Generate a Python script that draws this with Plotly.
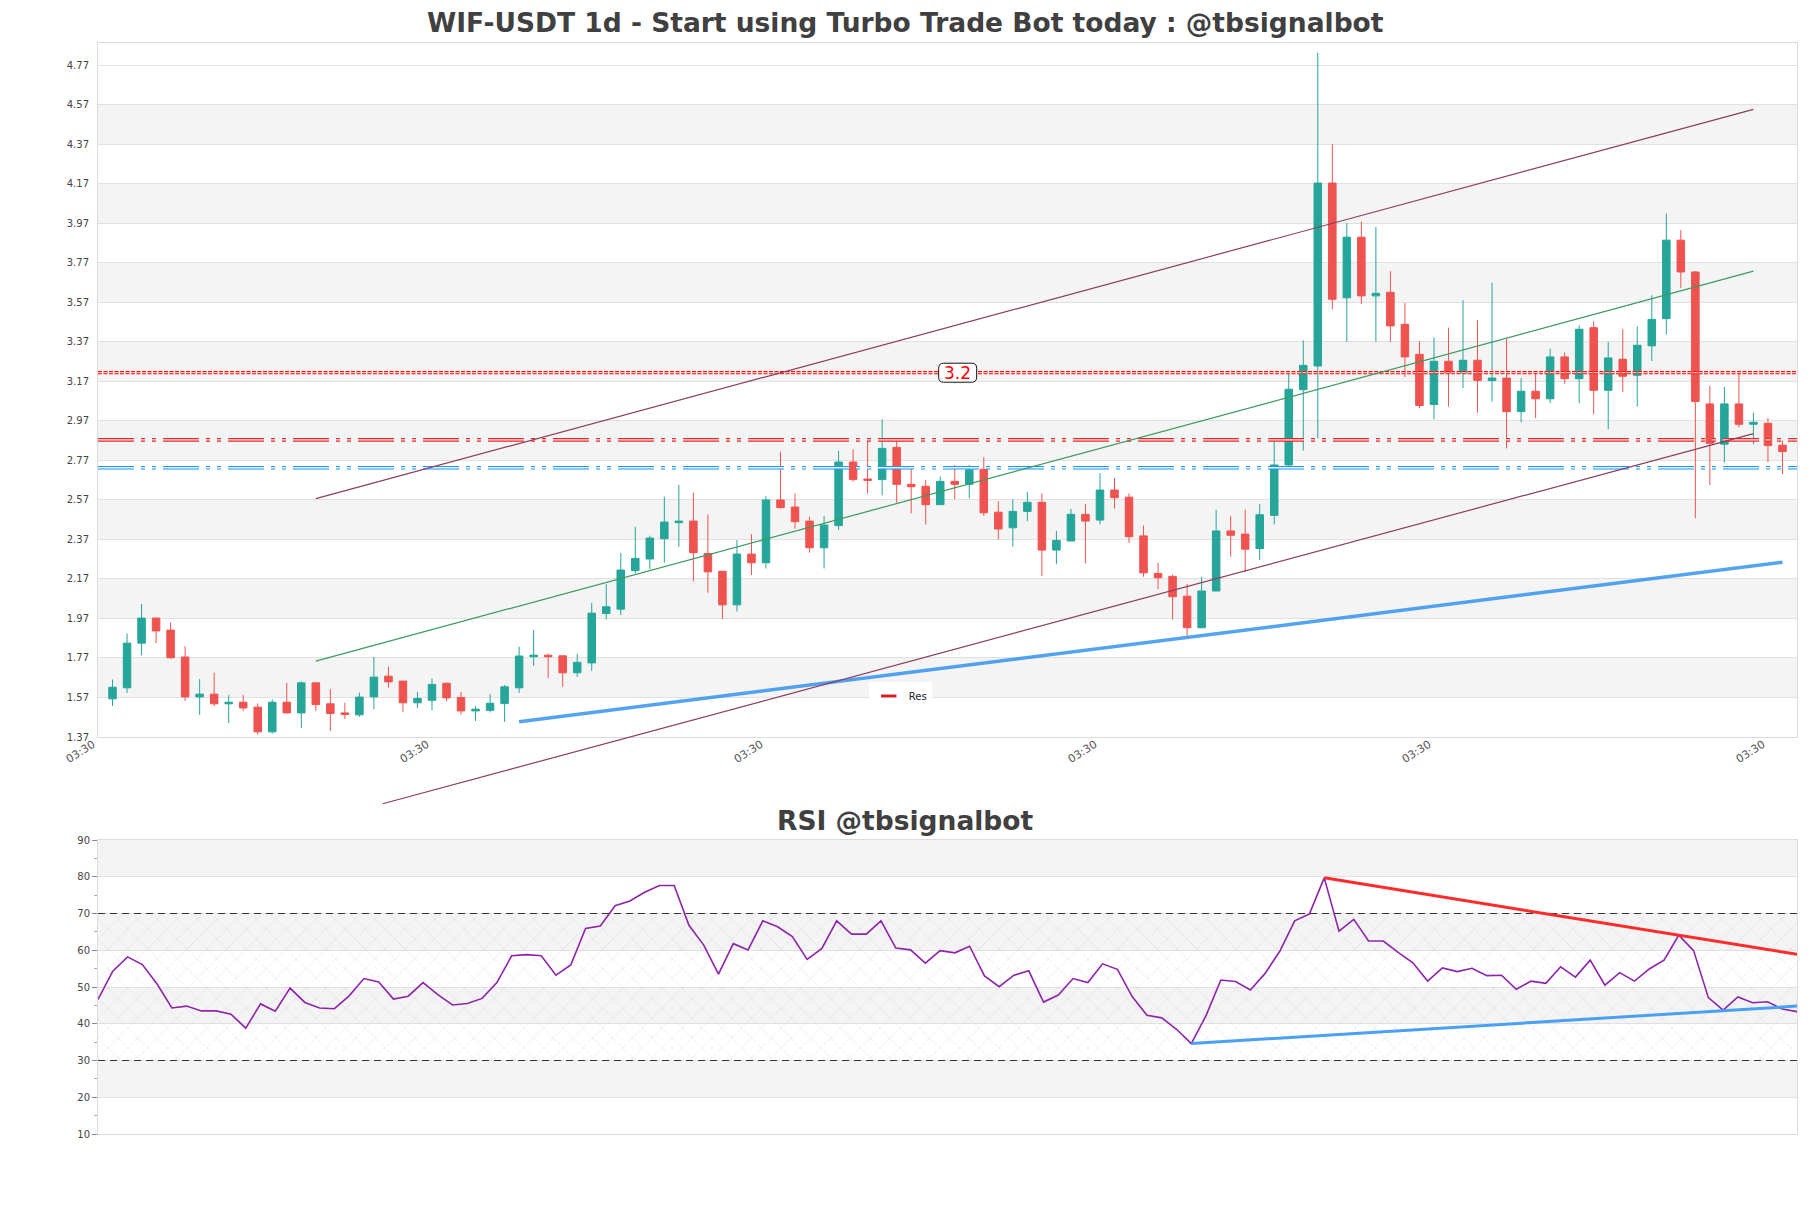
import plotly.graph_objects as go

# ---------------- data ----------------
TITLE = "WIF-USDT 1d - Start using Turbo Trade Bot today : @tbsignalbot"
RSI_TITLE = "RSI @tbsignalbot"

OPEN = [1.563, 1.619, 1.845, 1.972, 1.911, 1.775, 1.573, 1.587, 1.538, 1.546,
        1.521, 1.396, 1.546, 1.492, 1.644, 1.538, 1.492, 1.482, 1.573, 1.678,
        1.653, 1.543, 1.556, 1.642, 1.570, 1.502, 1.505, 1.539, 1.619, 1.776,
        1.784, 1.781, 1.695, 1.745, 1.995, 2.017, 2.212, 2.271, 2.374, 2.455,
        2.463, 2.299, 2.209, 2.039, 2.296, 2.252, 2.570, 2.534, 2.463, 2.328,
        2.440, 2.762, 2.676, 2.673, 2.836, 2.649, 2.639, 2.546, 2.664, 2.649,
        2.725, 2.508, 2.429, 2.512, 2.558, 2.316, 2.362, 2.497, 2.468, 2.620,
        2.584, 2.388, 2.198, 2.183, 2.083, 1.923, 2.109, 2.413, 2.397, 2.324,
        2.492, 2.747, 3.128, 3.248, 4.174, 3.593, 3.900, 3.603, 3.621, 3.459,
        3.307, 3.053, 3.272, 3.213, 3.277, 3.174, 3.187, 3.017, 3.120, 3.082,
        3.294, 3.184, 3.442, 3.125, 3.282, 3.201, 3.350, 3.488, 3.885, 3.724,
        3.056, 2.852, 3.056, 2.953, 2.958, 2.847]
HIGH = [1.661, 1.894, 2.043, 1.975, 1.950, 1.830, 1.663, 1.695, 1.582, 1.582,
        1.540, 1.561, 1.644, 1.652, 1.644, 1.612, 1.543, 1.595, 1.775, 1.726,
        1.653, 1.598, 1.666, 1.646, 1.598, 1.526, 1.587, 1.633, 1.827, 1.911,
        1.792, 1.781, 1.792, 2.049, 2.144, 2.301, 2.434, 2.389, 2.587, 2.646,
        2.607, 2.497, 2.209, 2.367, 2.397, 2.589, 2.814, 2.603, 2.485, 2.488,
        2.819, 2.826, 2.873, 2.978, 2.880, 2.730, 2.671, 2.688, 2.747, 2.747,
        2.786, 2.563, 2.573, 2.610, 2.603, 2.413, 2.524, 2.549, 2.706, 2.681,
        2.603, 2.440, 2.252, 2.191, 2.144, 2.181, 2.520, 2.488, 2.520, 2.549,
        2.873, 3.209, 3.378, 4.834, 4.371, 3.973, 3.978, 3.952, 3.728, 3.567,
        3.373, 3.392, 3.442, 3.581, 3.480, 3.669, 3.387, 3.187, 3.214, 3.336,
        3.316, 3.454, 3.474, 3.370, 3.434, 3.449, 3.606, 4.020, 3.936, 3.728,
        3.147, 3.142, 3.209, 3.012, 2.984, 2.869]
LOW = [1.527, 1.593, 1.784, 1.845, 1.767, 1.553, 1.482, 1.526, 1.441, 1.502,
       1.382, 1.387, 1.489, 1.416, 1.502, 1.401, 1.462, 1.472, 1.511, 1.619,
       1.497, 1.517, 1.505, 1.551, 1.483, 1.451, 1.494, 1.446, 1.593, 1.730,
       1.669, 1.624, 1.674, 1.705, 1.965, 1.987, 2.198, 2.220, 2.252, 2.333,
       2.158, 2.100, 1.968, 2.005, 2.190, 2.223, 2.526, 2.424, 2.303, 2.223,
       2.418, 2.663, 2.602, 2.593, 2.556, 2.502, 2.445, 2.546, 2.573, 2.578,
       2.489, 2.370, 2.333, 2.463, 2.186, 2.245, 2.362, 2.249, 2.446, 2.526,
       2.353, 2.181, 2.119, 1.965, 1.880, 1.923, 2.109, 2.283, 2.206, 2.266,
       2.446, 2.740, 2.820, 2.882, 3.535, 3.370, 3.561, 3.370, 3.370, 3.192,
       3.034, 2.978, 3.043, 3.137, 3.012, 3.068, 2.831, 2.963, 2.984, 3.060,
       3.159, 3.060, 3.004, 2.928, 3.116, 3.043, 3.273, 3.407, 3.643, 2.477,
       2.646, 2.759, 2.938, 2.852, 2.761, 2.701]
CLOSE = [1.622, 1.845, 1.972, 1.907, 1.771, 1.573, 1.587, 1.538, 1.546, 1.517,
         1.396, 1.546, 1.492, 1.644, 1.534, 1.489, 1.484, 1.572, 1.673, 1.649,
         1.543, 1.565, 1.636, 1.568, 1.502, 1.511, 1.541, 1.624, 1.780, 1.784,
         1.776, 1.695, 1.748, 1.997, 2.029, 2.215, 2.274, 2.377, 2.458, 2.463,
         2.303, 2.206, 2.039, 2.296, 2.252, 2.570, 2.531, 2.460, 2.328, 2.443,
         2.762, 2.673, 2.669, 2.831, 2.649, 2.637, 2.546, 2.664, 2.649, 2.722,
         2.505, 2.423, 2.512, 2.558, 2.316, 2.365, 2.497, 2.463, 2.620, 2.581,
         2.384, 2.201, 2.176, 2.080, 1.923, 2.109, 2.413, 2.391, 2.321, 2.495,
         2.747, 3.130, 3.251, 4.174, 3.586, 3.900, 3.603, 3.616, 3.451, 3.294,
         3.048, 3.272, 3.213, 3.277, 3.175, 3.187, 3.017, 3.120, 3.082, 3.294,
         3.184, 3.434, 3.125, 3.289, 3.196, 3.353, 3.484, 3.885, 3.724, 3.068,
         2.857, 3.056, 2.953, 2.963, 2.845, 2.815]

RSI = [46.6, 54.3, 58.2, 56.1, 50.8, 44.3, 44.8, 43.5, 43.5, 42.6,
       38.8, 45.4, 43.4, 49.7, 45.8, 44.3, 44.1, 47.6, 52.3, 51.4,
       46.7, 47.5, 51.2, 47.9, 45.1, 45.5, 46.9, 51.2, 58.5, 58.8,
       58.5, 53.2, 56.0, 65.9, 66.6, 72.1, 73.4, 75.8, 77.6, 77.6,
       66.8, 61.4, 53.5, 61.8, 60.1, 68.0, 66.4, 63.7, 57.5, 60.5,
       68.0, 64.4, 64.4, 68.0, 60.6, 60.1, 56.5, 59.9, 59.3, 61.1,
       53.0, 50.1, 53.2, 54.4, 45.9, 47.8, 52.3, 51.2, 56.3, 54.8,
       47.4, 42.3, 41.6, 38.5, 34.6, 42.2, 51.9, 51.5, 49.2, 53.7,
       59.8, 68.0, 69.9, 79.7, 65.2, 68.4, 62.5, 62.5, 59.4, 56.6,
       51.6, 55.2, 54.2, 55.1, 53.1, 53.2, 49.4, 51.6, 51.0, 55.5,
       52.7, 57.3, 50.5, 53.9, 51.6, 54.9, 57.3, 64.1, 59.9, 47.1,
       43.7, 47.3, 45.7, 46.0, 44.0, 43.3]

X_RANGE = [-1, 116]
Y_RANGE = [1.37, 4.883]
X_TICK_POS = [-1, 22, 45, 68, 91, 114]
X_TICK_TEXT = ["03:30", "03:30", "03:30", "03:30", "03:30", "03:30"]
Y_TICKS = [1.37, 1.57, 1.77, 1.97, 2.17, 2.37, 2.57, 2.77, 2.97, 3.17,
           3.37, 3.57, 3.77, 3.97, 4.17, 4.37, 4.57, 4.77]
RSI_TICKS = [10, 20, 30, 40, 50, 60, 70, 80, 90]
RSI_OVERBOUGHT = 70
RSI_OVERSOLD = 30

RES_LEVEL = 3.214
RES_LABEL = "3.2"
RES_LABEL_X = 58.2
RED_LEVEL = 2.874
BLUE_LEVEL = 2.733

CH_UPPER_X, CH_UPPER_Y = [14, 113], [2.577, 4.547]
CH_MID_X, CH_MID_Y = [14, 113], [1.754, 3.728]
CH_LOWER_X, CH_LOWER_Y = [18.6, 113], [1.032, 2.906]
SUPPORT_X, SUPPORT_Y = [28, 115], [1.447, 2.255]
RSI_RES_X, RSI_RES_Y = [83, 115], [79.7, 58.9]
RSI_SUP_X, RSI_SUP_Y = [74, 115], [34.6, 44.8]

# ---------------- layout geometry (page px; the page body has an 8px margin) ----------------
PAD = 8
W, H = 1811 - 2 * PAD, 1208 - 2 * PAD
PLOT_L, PLOT_R, PLOT_T, PLOT_B = 98, 1797.5, 43, 1134     # page coordinates
ML = PLOT_L - PAD
MR = W - (PLOT_R - PAD)
MT = PLOT_T - PAD
MB = H - (PLOT_B - PAD)
plot_w = W - ML - MR
plot_h = H - MT - MB


def py(page_y):  # page y -> paper y
    return (PLOT_B - page_y) / plot_h


def px(page_x):  # page x -> paper x
    return (page_x - PLOT_L) / plot_w


MAIN_DOM = [py(737), 1.0]
RSI_DOM = [0.0, py(840)]
EXT_DOM_LO = py(812)   # extended (unclipped) area for channel lines

per_paper = (Y_RANGE[1] - Y_RANGE[0]) / (MAIN_DOM[1] - MAIN_DOM[0])
ext_lo = Y_RANGE[0] - (MAIN_DOM[0] - EXT_DOM_LO) * per_paper

idx = list(range(len(OPEN)))
rsi_x = list(range(len(RSI)))

FONT = "DejaVu Sans"
GREEN = "#26a69a"
RED = "#ef5350"

fig = go.Figure()

fig.add_trace(go.Candlestick(
    x=idx, open=OPEN, high=HIGH, low=LOW, close=CLOSE,
    increasing=dict(line=dict(color=GREEN, width=1), fillcolor=GREEN),
    decreasing=dict(line=dict(color=RED, width=1), fillcolor=RED),
    whiskerwidth=0, showlegend=False, xaxis="x", yaxis="y"))


def hollow_line(level, color, inner, dash, outer_w, inner_w):
    fig.add_trace(go.Scatter(x=X_RANGE, y=[level, level], mode="lines",
                             line=dict(color=color, width=outer_w, dash=dash),
                             showlegend=False, hoverinfo="skip", xaxis="x", yaxis="y"))
    fig.add_trace(go.Scatter(x=X_RANGE, y=[level, level], mode="lines",
                             line=dict(color=inner, width=inner_w, dash=dash),
                             showlegend=False, hoverinfo="skip", xaxis="x", yaxis="y"))


DASHDOT = "36px,7px,4px,7px,4px,7px"
hollow_line(RED_LEVEL, "#e8262b", "#fdeee6", DASHDOT, 3.6, 1.3)
hollow_line(BLUE_LEVEL, "#2196f3", "#e6f6ff", DASHDOT, 3.6, 1.3)
hollow_line(RES_LEVEL, "#ff1010", "#fff2ee", "4px,1.5px", 3.2, 1.0)

# support line
fig.add_trace(go.Scatter(x=SUPPORT_X, y=SUPPORT_Y, mode="lines",
                         line=dict(color="rgba(40,140,240,0.8)", width=3.5),
                         showlegend=False, hoverinfo="skip", xaxis="x", yaxis="y"))

# channel lines (extended subplot so the lower line can leave the plot area)
for xs, ys, col in [(CH_UPPER_X, CH_UPPER_Y, "#8c3d5c"),
                    (CH_MID_X, CH_MID_Y, "#3c9a5f"),
                    (CH_LOWER_X, CH_LOWER_Y, "#8c3d5c")]:
    fig.add_trace(go.Scatter(x=xs, y=ys, mode="lines", line=dict(color=col, width=1.2),
                             showlegend=False, hoverinfo="skip", xaxis="x3", yaxis="y3"))

# legend entry
fig.add_trace(go.Scatter(x=[None], y=[None], mode="markers", name="Res",
                         marker=dict(symbol="line-ew-open", size=11, color="#d81f26",
                                     line=dict(color="#d81f26", width=3)),
                         xaxis="x", yaxis="y"))

# ---------------- RSI ----------------
fig.add_trace(go.Scatter(
    x=[rsi_x[0], rsi_x[-1], rsi_x[-1], rsi_x[0], rsi_x[0]],
    y=[RSI_OVERSOLD, RSI_OVERSOLD, RSI_OVERBOUGHT, RSI_OVERBOUGHT, RSI_OVERSOLD],
    mode="lines", fill="toself", line=dict(width=0),
    fillcolor="rgba(0,0,0,0)",
    fillpattern=dict(shape="x", size=14, solidity=0.09,
                     fgcolor="rgba(180,150,205,0.5)", bgcolor="rgba(0,0,0,0)"),
    showlegend=False, hoverinfo="skip", xaxis="x2", yaxis="y2"))

for lvl in [RSI_OVERBOUGHT, RSI_OVERSOLD]:
    fig.add_trace(go.Scatter(x=[rsi_x[0], rsi_x[-1]], y=[lvl, lvl], mode="lines",
                             line=dict(color="#333333", width=1.2, dash="7px,5px"),
                             showlegend=False, hoverinfo="skip", xaxis="x2", yaxis="y2"))

fig.add_trace(go.Scatter(x=rsi_x, y=RSI, mode="lines",
                         line=dict(color="#8e24aa", width=1.6),
                         showlegend=False, hoverinfo="skip", xaxis="x2", yaxis="y2"))

fig.add_trace(go.Scatter(x=RSI_RES_X, y=RSI_RES_Y, mode="lines",
                         line=dict(color="#ff2a2a", width=3),
                         showlegend=False, hoverinfo="skip", xaxis="x2", yaxis="y2"))
fig.add_trace(go.Scatter(x=RSI_SUP_X, y=RSI_SUP_Y, mode="lines",
                         line=dict(color="#4aa0f2", width=3),
                         showlegend=False, hoverinfo="skip", xaxis="x2", yaxis="y2"))

# ---------------- background bands ----------------
shapes = []
for k in range(len(Y_TICKS) - 1):
    if k % 2 == 1:
        shapes.append(dict(type="rect", xref="x domain", yref="y", x0=0, x1=1,
                           y0=Y_TICKS[k], y1=Y_TICKS[k + 1], fillcolor="#f4f4f4",
                           line=dict(width=0), layer="below"))
for k in range(len(RSI_TICKS) - 1):
    if k % 2 == 1:
        shapes.append(dict(type="rect", xref="x2 domain", yref="y2", x0=0, x1=1,
                           y0=RSI_TICKS[k], y1=RSI_TICKS[k + 1], fillcolor="#f4f4f4",
                           line=dict(width=0), layer="below"))

# rounded label box (pixel-sized, anchored at the label's data position)
BW, BH, BR = 19, 9.5, 5
box_path = (f"M {-BW + BR},{-BH} L {BW - BR},{-BH} Q {BW},{-BH} {BW},{-BH + BR} "
            f"L {BW},{BH - BR} Q {BW},{BH} {BW - BR},{BH} L {-BW + BR},{BH} "
            f"Q {-BW},{BH} {-BW},{BH - BR} L {-BW},{-BH + BR} Q {-BW},{-BH} {-BW + BR},{-BH} Z")
shapes.append(dict(type="path", xref="x", yref="y", xsizemode="pixel", ysizemode="pixel",
                   xanchor=RES_LABEL_X, yanchor=RES_LEVEL, path=box_path,
                   fillcolor="white", line=dict(color="#111111", width=1), layer="above"))

title_x = px(1811 / 2)

annotations = [
    dict(text=TITLE, xref="paper", yref="paper", x=title_x, y=py(23),
         xanchor="center", yanchor="middle", showarrow=False,
         font=dict(family=FONT, size=26.5, color="#404040", weight="bold")),
    dict(text=RSI_TITLE, xref="paper", yref="paper", x=title_x, y=py(820),
         xanchor="center", yanchor="middle", showarrow=False,
         font=dict(family=FONT, size=26.5, color="#404040", weight="bold")),
    dict(text=RES_LABEL, x=RES_LABEL_X, y=RES_LEVEL, xref="x", yref="y",
         showarrow=False, font=dict(family=FONT, size=17, color="#ff0000")),
]

axis_common = dict(showline=True, mirror=True, linecolor="#dcdcdc", linewidth=1,
                   zeroline=False)

fig.update_layout(
    width=W, height=H,
    margin=dict(l=ML, r=MR, t=MT, b=MB, autoexpand=False),
    paper_bgcolor="white", plot_bgcolor="rgba(0,0,0,0)",
    font=dict(family=FONT, color="#444444"),
    shapes=shapes, annotations=annotations,
    showlegend=True,
    legend=dict(x=px(869), y=py(696),
                xanchor="left", yanchor="middle", bgcolor="white",
                font=dict(family=FONT, size=10, color="#222222")),
    xaxis=dict(domain=[0, 1], anchor="y", range=X_RANGE, tickmode="array",
               tickvals=X_TICK_POS, ticktext=X_TICK_TEXT, tickangle=-32,
               tickfont=dict(size=11, color="#555555"), showgrid=False,
               ticklabelshift=-5, ticklabelstandoff=-4,
               rangeslider=dict(visible=False), **axis_common),
    yaxis=dict(domain=MAIN_DOM, anchor="x", range=Y_RANGE, tickmode="array",
               tickvals=Y_TICKS, ticktext=["%.2f" % v for v in Y_TICKS],
               tickfont=dict(size=10, color="#444444"), showgrid=True,
               gridcolor="#e1e1e1", ticks="outside", ticklen=6,
               tickcolor="rgba(0,0,0,0)", **axis_common),
    xaxis2=dict(domain=[0, 1], anchor="y2", range=[rsi_x[0], rsi_x[-1]],
                showticklabels=False, showgrid=False, **axis_common),
    yaxis2=dict(domain=RSI_DOM, anchor="x2", range=[RSI_TICKS[0], RSI_TICKS[-1]],
                tickmode="array", tickvals=RSI_TICKS,
                tickfont=dict(size=10, color="#444444"), showgrid=True,
                gridcolor="#e1e1e1", ticks="outside", ticklen=5, tickcolor="#888888",
                minor=dict(tickmode="array", tickvals=[t + 5 for t in RSI_TICKS[:-1]],
                           ticks="outside", ticklen=3, tickcolor="#aaaaaa", showgrid=False),
                **axis_common),
    xaxis3=dict(domain=[0, 1], anchor="y3", range=X_RANGE, visible=False),
    yaxis3=dict(domain=[EXT_DOM_LO, MAIN_DOM[1]], anchor="x3",
                range=[ext_lo, Y_RANGE[1]], visible=False),
    boxgap=0.26,
)

fig.write_html("out.html")
